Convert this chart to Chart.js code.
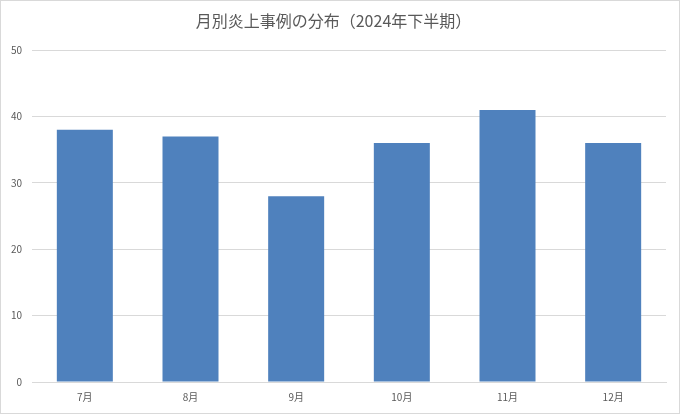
<!DOCTYPE html>
<html>
<head>
<meta charset="utf-8">
<script src="https://cdn.jsdelivr.net/npm/chart.js@4"></script>
<style>
  html, body { margin: 0; padding: 0; background: #fff; }
  #wrap { position: relative; width: 678px; height: 412px; border: 1px solid #d9d9d9; }
</style>
</head>
<body>
<div id="wrap"><canvas id="fire-canvas"></canvas></div>
<script>
  var months = ["7月", "8月", "9月", "10月", "11月", "12月"];
  var counts = [38, 37, 28, 36, 41, 36];
  var yTicks = [0, 10, 20, 30, 40, 50];

  var fireCanvas = document.getElementById("fire-canvas");

  var fireData = {
    labels: months,
    datasets: [
      {
        label: "件数",
        data: counts,
        backgroundColor: "#4f81bd",
        categoryPercentage: 1.0,
        barPercentage: 0.53,
      },
    ],
  };

  var fireOptions = {
    maintainAspectRatio: false,
    responsive: true,
    animation: false,
    layout: { padding: { left: 0, right: 13, top: 4, bottom: 1 } },
    plugins: {
      legend: { display: false },
      tooltip: { enabled: false },
      title: {
        display: true,
        text: "月別炎上事例の分布（2024年下半期）",
        color: "#595959",
        font: { family: "'Noto Sans CJK JP'", size: 16, weight: "normal" },
        padding: { top: 6, bottom: 20 },
      },
    },
    scales: {
      x: {
        grid: { display: false, drawTicks: false },
        border: { display: true, color: "#d9d9d9" },
        ticks: {
          color: "#595959",
          font: { family: "'Noto Sans CJK JP'", size: 10 },
          padding: 9,
        },
      },
      y: {
        min: 0,
        max: 50,
        afterBuildTicks: function (axis) {
          axis.ticks = yTicks.map(function (v) { return { value: v }; });
        },
        afterFit: function (axis) {
          axis.width = 31;
        },
        grid: { color: "#d9d9d9", drawTicks: false },
        border: { display: false },
        ticks: {
          color: "#595959",
          font: { family: "'Noto Sans CJK JP'", size: 10 },
          padding: 10,
        },
      },
    },
  };

  new Chart(fireCanvas, {
    type: "bar",
    data: fireData,
    options: fireOptions,
  });
</script>
</body>
</html>
